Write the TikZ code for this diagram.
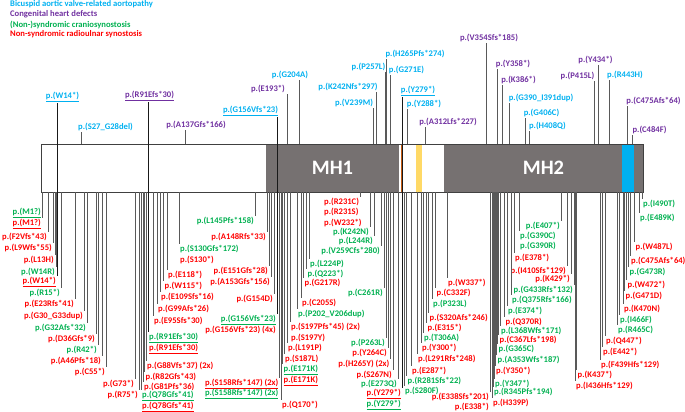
\documentclass[tikz,border=0pt]{standalone}
\usepackage{fontspec}
\setmainfont{Carlito}
\definecolor{bavblue}{HTML}{00B0F0}
\definecolor{chdpurple}{HTML}{7030A0}
\definecolor{crsgreen}{HTML}{00B050}
\definecolor{rusred}{HTML}{FF0000}
\definecolor{mhgrey}{HTML}{767171}
\definecolor{sitegold}{HTML}{FFD966}
\definecolor{siteorange}{HTML}{C55A11}

\begin{document}
\begin{tikzpicture}[x=1pt,y=-1pt]
\tikzstyle{lab}=[font=\fontsize{8.6}{9}\selectfont\bfseries,inner sep=1pt]
\tikzstyle{bav}=[lab,text=bavblue]
\tikzstyle{chd}=[lab,text=chdpurple]
\tikzstyle{crs}=[lab,text=crsgreen]
\tikzstyle{rus}=[lab,text=rusred]
\tikzstyle{stick}=[draw=black!65,line width=0.7pt]
\tikzstyle{thru}=[draw=black!90,line width=0.7pt]
\tikzstyle{mhbox}=[fill=mhgrey,text=white,inner sep=0pt,minimum height=48,font=\fontsize{20.5}{22}\selectfont\bfseries]
\useasboundingbox (0,0) rectangle (685,412);

\node[bav,anchor=west] (legbav) at (9,4.5) {Bicuspid aortic valve-related aortopathy};
\node[chd,anchor=west] (legchd) at (9,14.5) {Congenital heart defects};
\node[crs,anchor=west] (legcrs) at (9,24.5) {(Non-)syndromic craniosynostosis};
\node[rus,anchor=west] (legrus) at (9,34.5) {Non-syndromic radioulnar synostosis};

\node[mhbox,minimum width=133] (mh1) at (332.5,168) {MH1};
\node[mhbox,minimum width=199] (mh2) at (543.5,168) {MH2};
\fill[siteorange] (400.6,144) rectangle (403.2,192);
\fill[sitegold] (416,144) rectangle (422,192);
\fill[bavblue] (622,144) rectangle (634,192);
\node[draw=black!75,line width=0.6pt,minimum width=602,minimum height=48,inner sep=0pt] (bar) at (342,168) {};

\node[bav] (w14t) at (62.5,97) {\underline{p.(W14*)}};
\node[chd] (r91t) at (149.5,96) {\underline{p.(R91Efs*30)}};
\node[bav] (s27t) at (105.5,127) {p.(S27\_G28del)};
\node[chd] (a137t) at (196,125) {p.(A137Gfs*166)};
\node[bav] (g156t) at (250.5,111) {\underline{p.(G156Vfs*23)}};
\node[chd] (e193t) at (268,89) {p.(E193*)};
\node[bav] (g204t) at (290,75) {p.(G204A)};
\node[bav] (k242t) at (348,87) {p.(K242Nfs*297)};
\node[bav] (v239t) at (354,103) {p.(V239M)};
\node[bav] (p257t) at (368.5,67) {p.(P257L)};
\node[bav] (h265t) at (415,54) {p.(H265Pfs*274)};
\node[bav] (g271t) at (406.5,70) {p.(G271E)};
\node[bav] (y279t) at (418,91) {\underline{p.(Y279*)}};
\node[bav] (y288t) at (424,104) {p.(Y288*)};
\node[chd] (a312t) at (448,122) {p.(A312Lfs*227)};
\node[chd] (v354t) at (489,38) {p.(V354Sfs*185)};
\node[chd] (y358t) at (513,64) {p.(Y358*)};
\node[chd] (k386t) at (518.5,80) {p.(K386*)};
\node[bav] (g390t) at (541,98) {p.(G390\_I391dup)};
\node[bav] (g406t) at (541.5,113) {p.(G406C)};
\node[bav] (h408t) at (547.5,126) {p.(H408Q)};
\node[chd] (y434t) at (595.5,60) {p.(Y434*)};
\node[chd] (p415t) at (577.5,76) {p.(P415L)};
\node[bav] (r443t) at (625,75) {p.(R443H)};
\node[chd] (c475t) at (653.5,101) {p.(C475Afs*64)};
\node[chd] (c484t) at (649.5,130) {p.(C484F)};

\node[crs,anchor=east] (m1g) at (42,213) {\underline{p.(M1?)}};
\node[rus,anchor=east] (m1r) at (42,224) {\underline{p.(M1?)}};
\node[rus,anchor=east] (f2v) at (48,237) {p.(F2Vfs*43)};
\node[rus,anchor=east] (l9w) at (53,248) {p.(L9Wfs*55)};
\node[rus,anchor=east] (l13h) at (55,260) {p.(L13H)};
\node[crs,anchor=east] (w14r) at (56,272) {p.(W14R)};
\node[rus,anchor=east] (w14b) at (57,282) {\underline{p.(W14*)}};
\node[crs,anchor=east] (r15) at (61,293) {p.(R15*)};
\node[rus,anchor=east] (e23r) at (75,304) {p.(E23Rfs*41)};
\node[rus,anchor=east] (g30) at (84,316) {p.(G30\_G33dup)};
\node[crs,anchor=east] (g32a) at (87,328) {p.(G32Afs*32)};
\node[rus,anchor=east] (d36g) at (96,339) {p.(D36Gfs*9)};
\node[crs,anchor=east] (r42) at (98,350) {p.(R42*)};
\node[rus,anchor=east] (a46p) at (102,361) {p.(A46Pfs*18)};
\node[rus,anchor=east] (c55) at (106,372) {p.(C55*)};
\node[rus,anchor=east] (g73) at (135,384) {p.(G73*)};
\node[rus,anchor=east] (r75) at (139,395) {p.(R75*)};

\node[crs,anchor=west] (q78g) at (141,396) {\underline{p.(Q78Gfs*41)}};
\node[rus,anchor=west] (q78r) at (141,407) {\underline{p.(Q78Gfs*41)}};
\node[rus,anchor=west] (g81p) at (143,387) {p.(G81Pfs*36)};
\node[rus,anchor=west] (r82g) at (144.5,377) {p.(R82Gfs*43)};
\node[rus,anchor=west] (g88v) at (146,366) {p.(G88Vfs*37) (2x)};
\node[crs,anchor=west] (r91b) at (148,338) {\underline{p.(R91Efs*30)}};
\node[rus,anchor=west] (r91r) at (148,349) {\underline{p.(R91Efs*30)}};
\node[rus,anchor=west] (e95s) at (153,321) {p.(E95Sfs*30)};
\node[rus,anchor=west] (g99a) at (157,309) {p.(G99Afs*26)};
\node[rus,anchor=west] (e109s) at (160,297) {p.(E109Sfs*16)};
\node[rus,anchor=west] (w115) at (163.5,286) {p.(W115*)};
\node[rus,anchor=west] (e118) at (167,275) {p.(E118*)};
\node[crs,anchor=west] (s130g) at (179,249) {p.(S130Gfs*172)};
\node[rus,anchor=west] (s130) at (179,260) {p.(S130*)};

\node[crs,anchor=east] (l145p) at (255,221) {p.(L145Pfs*158)};
\node[rus,anchor=east] (a148r) at (267,237) {p.(A148Rfs*33)};
\node[rus,anchor=east] (e151g) at (269,271) {p.(E151Gfs*28)};
\node[rus,anchor=east] (a153g) at (271,282) {p.(A153Gfs*156)};
\node[rus,anchor=east] (g154d) at (274,299) {p.(G154D)};
\node[crs,anchor=east] (g156b) at (277,320) {\underline{p.(G156Vfs*23)}};
\node[rus,anchor=east] (g156r) at (277,330) {p.(G156Vfs*23) (4x)};
\node[rus,anchor=east] (s158r) at (279.5,384) {\underline{p.(S158Rfs*147) (2x)}};
\node[crs,anchor=east] (s158g) at (279.5,394) {\underline{p.(S158Rfs*147) (2x)}};

\node[rus,anchor=west] (q170) at (281,405) {p.(Q170*)};
\node[crs,anchor=west] (e171g) at (282.5,370) {\underline{p.(E171K)}};
\node[rus,anchor=west] (e171r) at (282.5,381) {\underline{p.(E171K)}};
\node[rus,anchor=west] (s187l) at (284,359) {p.(S187L)};
\node[rus,anchor=west] (l191p) at (287,348) {p.(L191P)};
\node[rus,anchor=west] (s197p) at (290,327) {p.(S197Pfs*45) (2x)};
\node[rus,anchor=west] (s197y) at (290,338) {p.(S197Y)};
\node[crs,anchor=west] (p202) at (297,314) {p.(P202\_V206dup)};
\node[rus,anchor=west] (c205s) at (301,303) {p.(C205S)};
\node[rus,anchor=west] (g217r) at (303.5,283) {p.(G217R)};
\node[crs,anchor=west] (q223) at (306.5,274) {p.(Q223*)};
\node[crs,anchor=west] (l224p) at (309,264) {p.(L224P)};
\node[rus,anchor=west] (r231c) at (323,202) {p.(R231C)};
\node[rus,anchor=west] (r231s) at (323,212) {p.(R231S)};
\node[rus,anchor=west] (w232) at (323,223) {p.(W232*)};

\node[crs,anchor=east] (k242n) at (370,232) {p.(K242N)};
\node[crs,anchor=east] (l244r) at (374,241) {p.(L244R)};
\node[crs,anchor=east] (v259c) at (381,251) {p.(V259Cfs*280)};
\node[crs,anchor=east] (c261r) at (384,293) {p.(C261R)};
\node[crs,anchor=east] (p263l) at (386,343) {p.(P263L)};
\node[rus,anchor=east] (y264c) at (388,353) {p.(Y264C)};
\node[rus,anchor=east] (h265y) at (390.5,364) {p.(H265Y) (2x)};
\node[rus,anchor=east] (s267n) at (393,375) {p.(S267N)};
\node[crs,anchor=east] (e273q) at (398,384) {p.(E273Q)};
\node[rus,anchor=east] (y279b) at (402,394) {\underline{p.(Y279*)}};
\node[crs,anchor=east] (y279g) at (402,405) {\underline{p.(Y279*)}};

\node[crs,anchor=west] (s280f) at (404,391) {p.(S280F)};
\node[crs,anchor=west] (r281s) at (406.5,381) {p.(R281Sfs*22)};
\node[rus,anchor=west] (e287) at (411,371) {p.(E287*)};
\node[rus,anchor=west] (l291r) at (417,359) {p.(L291Rfs*248)};
\node[rus,anchor=west] (y300) at (421,348) {p.(Y300*)};
\node[crs,anchor=west] (t306a) at (423,338) {p.(T306A)};
\node[rus,anchor=west] (e315) at (426.5,328) {p.(E315*)};
\node[rus,anchor=west] (s320a) at (428.5,318) {p.(S320Afs*246)};
\node[crs,anchor=west] (p323l) at (432,304) {p.(P323L)};
\node[rus,anchor=west] (c332f) at (435.5,293) {p.(C332F)};
\node[rus,anchor=west] (w337) at (447,283) {p.(W337*)};
\node[rus,anchor=east] (e338s) at (490,397) {p.(E338Sfs*201)};
\node[rus,anchor=east] (e338) at (490,407) {p.(E338*)};

\node[rus,anchor=west] (h339p) at (492,403) {p.(H339P)};
\node[crs,anchor=west] (r345p) at (493,392) {p.(R345Pfs*194)};
\node[crs,anchor=west] (y347) at (494,384) {p.(Y347*)};
\node[rus,anchor=west] (y350) at (495,371) {p.(Y350*)};
\node[crs,anchor=west] (a353w) at (496.5,360) {p.(A353Wfs*187)};
\node[crs,anchor=west] (g365c) at (497.5,349) {p.(G365C)};
\node[rus,anchor=west] (c367l) at (498.5,340) {p.(C367Lfs*198)};
\node[crs,anchor=west] (l368w) at (500,331) {p.(L368Wfs*171)};
\node[rus,anchor=west] (q370r) at (504.5,322) {p.(Q370R)};
\node[crs,anchor=west] (e374) at (507,311) {p.(E374*)};
\node[crs,anchor=west] (q375r) at (511,300) {p.(Q375Rfs*166)};
\node[rus,anchor=west] (e378) at (514,258) {p.(E378*)};
\node[crs,anchor=west] (g390r) at (519,246) {p.(G390R)};
\node[crs,anchor=west] (g390c) at (519,236) {p.(G390C)};
\node[crs,anchor=east] (e407) at (561,226) {p.(E407*)};
\node[rus,anchor=east] (i410s) at (567,271) {p.(I410Sfs*129)};
\node[rus,anchor=east] (k429) at (571,279) {p.(K429*)};
\node[crs,anchor=east] (g433r) at (574,290) {p.(G433Rfs*132)};

\node[rus,anchor=west] (k437) at (576.5,375) {p.(K437*)};
\node[rus,anchor=west] (i436h) at (575,386) {p.(I436Hfs*129)};
\node[rus,anchor=west] (f439h) at (600,365) {p.(F439Hfs*129)};
\node[rus,anchor=west] (e442) at (602,352) {p.(E442*)};
\node[rus,anchor=west] (q447) at (605,341) {p.(Q447*)};
\node[crs,anchor=west] (r465c) at (617,330) {p.(R465C)};
\node[crs,anchor=west] (i466f) at (619,320) {p.(I466F)};
\node[rus,anchor=west] (k470n) at (623,309) {p.(K470N)};
\node[rus,anchor=west] (g471d) at (624.5,296) {p.(G471D)};
\node[rus,anchor=west] (w472) at (626.5,285) {p.(W472*)};
\node[crs,anchor=west] (g473r) at (628.5,272) {p.(G473R)};
\node[rus,anchor=west] (c475a) at (630,261) {p.(C475Afs*64)};
\node[rus,anchor=west] (w487l) at (634.5,247) {p.(W487L)};
\node[crs,anchor=west] (e489k) at (639,218) {p.(E489K)};
\node[crs,anchor=west] (i490t) at (642,204) {p.(I490T)};

\draw[thru] (w14t.south -| w14b.north east) -- (w14b.north east);
\draw[thru] (r91t.south -| r91b.north west) -- (r91b.north west);
\draw[thru] (g156t.south -| g156b.north east) -- (g156b.north east);
\draw[thru] (y279t.south -| y279b.north east) -- (y279b.north east);

\draw[stick] ([xshift=-24.5]s27t.south) -- ([xshift=-24.5]s27t.south |- bar.north);
\draw[stick] ([xshift=-11]a137t.south) -- ([xshift=-11]a137t.south |- bar.north);
\draw[stick] ([xshift=19]e193t.south) -- ([xshift=19]e193t.south |- bar.north);
\draw[stick] ([xshift=9]g204t.south) -- ([xshift=9]g204t.south |- bar.north);
\draw[stick] ([xshift=28]k242t.south) -- ([xshift=28]k242t.south |- bar.north);
\draw[stick] ([xshift=19]v239t.south) -- ([xshift=19]v239t.south |- bar.north);
\draw[stick] ([xshift=16.5]p257t.south) -- ([xshift=16.5]p257t.south |- bar.north);
\draw[stick] ([xshift=-29]h265t.south) -- ([xshift=-29]h265t.south |- bar.north);
\draw[stick] ([xshift=-16.5]g271t.south) -- ([xshift=-16.5]g271t.south |- bar.north);
\draw[stick] ([xshift=-17]y288t.south) -- ([xshift=-17]y288t.south |- bar.north);
\draw[stick] ([xshift=-23]a312t.south) -- ([xshift=-23]a312t.south |- bar.north);
\draw[stick] ([xshift=-3]v354t.south) -- ([xshift=-3]v354t.south |- bar.north);
\draw[stick] ([xshift=-16]y358t.south) -- ([xshift=-16]y358t.south |- bar.north);
\draw[stick] ([xshift=-16.5]k386t.south) -- ([xshift=-16.5]k386t.south |- bar.north);
\draw[stick] ([xshift=-32]g390t.south) -- ([xshift=-32]g390t.south |- bar.north);
\draw[stick] ([xshift=-16.5]g406t.south) -- ([xshift=-16.5]g406t.south |- bar.north);
\draw[stick] ([xshift=-18.5]h408t.south) -- ([xshift=-18.5]h408t.south |- bar.north);
\draw[stick] ([xshift=2.5]y434t.south) -- ([xshift=2.5]y434t.south |- bar.north);
\draw[stick] ([xshift=16.5]p415t.south) -- ([xshift=16.5]p415t.south |- bar.north);
\draw[stick] ([xshift=-16]r443t.south) -- ([xshift=-16]r443t.south |- bar.north);
\draw[stick] ([xshift=-26.5]c475t.south) -- ([xshift=-26.5]c475t.south |- bar.north);
\draw[stick] ([xshift=-17.5]c484t.south) -- ([xshift=-17.5]c484t.south |- bar.north);

\draw[stick] (m1r.north east) -- (m1r.north east |- bar.south);
\draw[stick] (f2v.north east) -- (f2v.north east |- bar.south);
\draw[stick] (l9w.north east) -- (l9w.north east |- bar.south);
\draw[stick] (l13h.north east) -- (l13h.north east |- bar.south);
\draw[stick] (w14r.north east) -- (w14r.north east |- bar.south);
\draw[stick] (r15.north east) -- (r15.north east |- bar.south);
\draw[stick] (e23r.north east) -- (e23r.north east |- bar.south);
\draw[stick] (g30.north east) -- (g30.north east |- bar.south);
\draw[stick] (g32a.north east) -- (g32a.north east |- bar.south);
\draw[stick] (d36g.north east) -- (d36g.north east |- bar.south);
\draw[stick] (r42.north east) -- (r42.north east |- bar.south);
\draw[stick] (a46p.north east) -- (a46p.north east |- bar.south);
\draw[stick] (c55.north east) -- (c55.north east |- bar.south);
\draw[stick] (g73.north east) -- (g73.north east |- bar.south);
\draw[stick] (r75.north east) -- (r75.north east |- bar.south);
\draw[stick] (q78g.north west) -- (q78g.north west |- bar.south);
\draw[stick] (g81p.north west) -- (g81p.north west |- bar.south);
\draw[stick] (r82g.north west) -- (r82g.north west |- bar.south);
\draw[stick] (g88v.north west) -- (g88v.north west |- bar.south);
\draw[stick] (e95s.north west) -- (e95s.north west |- bar.south);
\draw[stick] (g99a.north west) -- (g99a.north west |- bar.south);
\draw[stick] (e109s.north west) -- (e109s.north west |- bar.south);
\draw[stick] (w115.north west) -- (w115.north west |- bar.south);
\draw[stick] (e118.north west) -- (e118.north west |- bar.south);
\draw[stick] (s130g.north west) -- (s130g.north west |- bar.south);
\draw[stick] (l145p.north east) -- (l145p.north east |- bar.south);
\draw[stick] (a148r.north east) -- (a148r.north east |- bar.south);
\draw[stick] (e151g.north east) -- (e151g.north east |- bar.south);
\draw[stick] (a153g.north east) -- (a153g.north east |- bar.south);
\draw[stick] (g154d.north east) -- (g154d.north east |- bar.south);
\draw[stick] (s158r.north east) -- (s158r.north east |- bar.south);
\draw[stick] (q170.north west) -- (q170.north west |- bar.south);
\draw[stick] (e171g.north west) -- (e171g.north west |- bar.south);
\draw[stick] (s187l.north west) -- (s187l.north west |- bar.south);
\draw[stick] (l191p.north west) -- (l191p.north west |- bar.south);
\draw[stick] (s197p.north west) -- (s197p.north west |- bar.south);
\draw[stick] (p202.north west) -- (p202.north west |- bar.south);
\draw[stick] (c205s.north west) -- (c205s.north west |- bar.south);
\draw[stick] (g217r.north west) -- (g217r.north west |- bar.south);
\draw[stick] (q223.north west) -- (q223.north west |- bar.south);
\draw[stick] (l224p.north west) -- (l224p.north west |- bar.south);
\draw[stick] (r231c.north east) -- (r231c.north east |- bar.south);
\draw[stick] (k242n.north east) -- (k242n.north east |- bar.south);
\draw[stick] (l244r.north east) -- (l244r.north east |- bar.south);
\draw[stick] (v259c.north east) -- (v259c.north east |- bar.south);
\draw[stick] (c261r.north east) -- (c261r.north east |- bar.south);
\draw[stick] (p263l.north east) -- (p263l.north east |- bar.south);
\draw[stick] (y264c.north east) -- (y264c.north east |- bar.south);
\draw[stick] (h265y.north east) -- (h265y.north east |- bar.south);
\draw[stick] (s267n.north east) -- (s267n.north east |- bar.south);
\draw[stick] (e273q.north east) -- (e273q.north east |- bar.south);
\draw[stick] (s280f.north west) -- (s280f.north west |- bar.south);
\draw[stick] (r281s.north west) -- (r281s.north west |- bar.south);
\draw[stick] (e287.north west) -- (e287.north west |- bar.south);
\draw[stick] (l291r.north west) -- (l291r.north west |- bar.south);
\draw[stick] (y300.north west) -- (y300.north west |- bar.south);
\draw[stick] (t306a.north west) -- (t306a.north west |- bar.south);
\draw[stick] (e315.north west) -- (e315.north west |- bar.south);
\draw[stick] (s320a.north west) -- (s320a.north west |- bar.south);
\draw[stick] (p323l.north west) -- (p323l.north west |- bar.south);
\draw[stick] (c332f.north west) -- (c332f.north west |- bar.south);
\draw[stick] (w337.north west) -- (w337.north west |- bar.south);
\draw[stick] (e338s.north east) -- (e338s.north east |- bar.south);
\draw[stick] (h339p.north west) -- (h339p.north west |- bar.south);
\draw[stick] (r345p.north west) -- (r345p.north west |- bar.south);
\draw[stick] (y347.north west) -- (y347.north west |- bar.south);
\draw[stick] (y350.north west) -- (y350.north west |- bar.south);
\draw[stick] (a353w.north west) -- (a353w.north west |- bar.south);
\draw[stick] (g365c.north west) -- (g365c.north west |- bar.south);
\draw[stick] (c367l.north west) -- (c367l.north west |- bar.south);
\draw[stick] (l368w.north west) -- (l368w.north west |- bar.south);
\draw[stick] (q370r.north west) -- (q370r.north west |- bar.south);
\draw[stick] (e374.north west) -- (e374.north west |- bar.south);
\draw[stick] (q375r.north west) -- (q375r.north west |- bar.south);
\draw[stick] (e378.north west) -- (e378.north west |- bar.south);
\draw[stick] (g390c.north west) -- (g390c.north west |- bar.south);
\draw[stick] (e407.north east) -- (e407.north east |- bar.south);
\draw[stick] (i410s.north east) -- (i410s.north east |- bar.south);
\draw[stick] (k429.north east) -- (k429.north east |- bar.south);
\draw[stick] (g433r.north east) -- (g433r.north east |- bar.south);
\draw[stick] (k437.north west) -- (k437.north west |- bar.south);
\draw[stick] (i436h.north west) -- (i436h.north west |- bar.south);
\draw[stick] (f439h.north west) -- (f439h.north west |- bar.south);
\draw[stick] (e442.north west) -- (e442.north west |- bar.south);
\draw[stick] (q447.north west) -- (q447.north west |- bar.south);
\draw[stick] (r465c.north west) -- (r465c.north west |- bar.south);
\draw[stick] (i466f.north west) -- (i466f.north west |- bar.south);
\draw[stick] (k470n.north west) -- (k470n.north west |- bar.south);
\draw[stick] (g471d.north west) -- (g471d.north west |- bar.south);
\draw[stick] (w472.north west) -- (w472.north west |- bar.south);
\draw[stick] (g473r.north west) -- (g473r.north west |- bar.south);
\draw[stick] (c475a.north west) -- (c475a.north west |- bar.south);
\draw[stick] (w487l.north west) -- (w487l.north west |- bar.south);
\draw[stick] (e489k.north west) -- (e489k.north west |- bar.south);
\draw[stick] (i490t.north west) -- (i490t.north west |- bar.south);
\end{tikzpicture}
\end{document}
